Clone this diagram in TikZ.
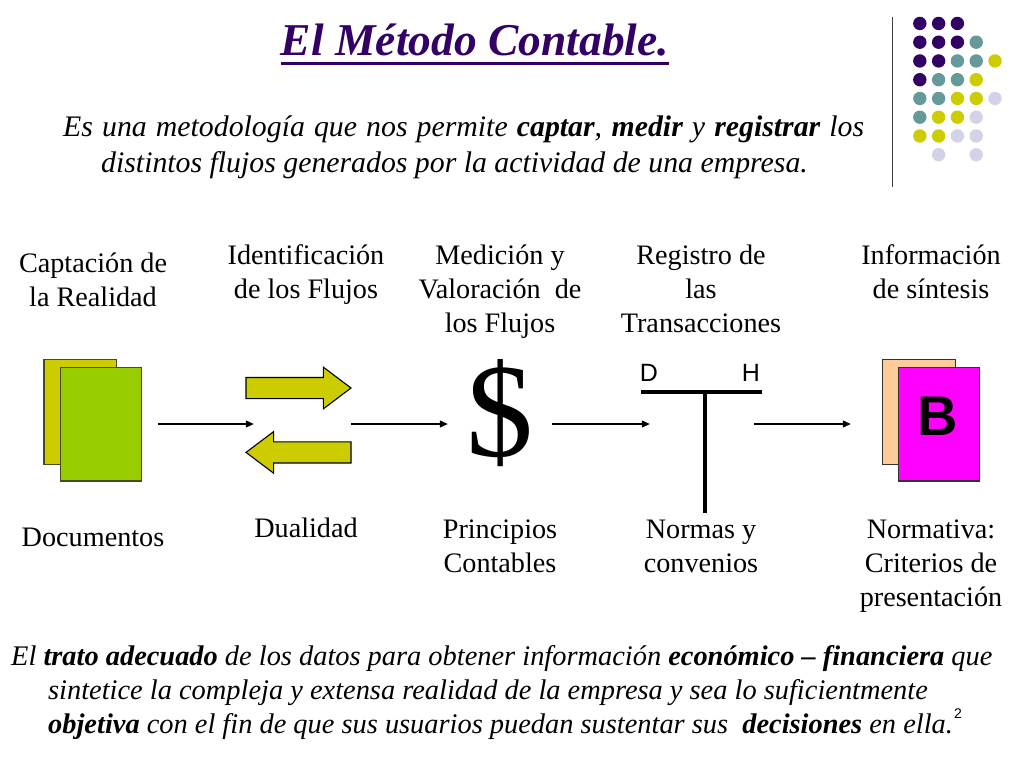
\documentclass[tikz,border=0pt]{standalone}
\usepackage{fontspec}
\setmainfont{Liberation Serif}
\newfontfamily\arialfont{Liberation Sans}
\usetikzlibrary{arrows.meta, positioning, shapes.arrows}
\tikzset{>={Triangle[width=7pt,length=8pt]}}
\definecolor{morado}{HTML}{330066}
\definecolor{verdoso}{HTML}{669999}
\definecolor{amarillo}{HTML}{CCCC00}
\definecolor{lila}{HTML}{D3D3E8}
\definecolor{verde}{HTML}{99CC00}
\definecolor{melocoton}{HTML}{FFCC99}
\definecolor{rosa}{HTML}{FF00FF}
\definecolor{borde}{HTML}{4A4A20}
\tikzset{
	texto/.style = {inner sep = 0pt, align = center, font = \fontsize{28.2}{34}\selectfont},
	parrafo/.style = {inner sep = 0pt, align = left, font = \fontsize{28.4}{34}\selectfont\itshape},
	hoja/.style = {draw = borde, line width = 1.1pt, inner sep = 0pt},
	flecha/.style = {->, line width = 1.1pt},
	bloque/.style = {single arrow, draw = black, line width = 1.1pt, fill = amarillo, inner xsep = 0pt, inner ysep = 10pt,
		minimum width = 40.6pt, minimum height = 105pt, single arrow head extend = 10.3pt,
		single arrow tip angle = 74, single arrow head indent = 0pt},
	punto/.style = {circle, inner sep = 0pt, minimum size = 13.4pt}
}
\begin{document}
\begin{tikzpicture}[x = 1pt, y = -1pt]
			\useasboundingbox (0,0) rectangle (1024,768);
			% encabezado
			\node (titulo) [inner sep = 0pt, text = morado, font = \fontsize{45.5}{45.5}\selectfont\bfseries\itshape] at (475,40) {El Método Contable.};
			\draw [line width = 2.5pt, draw = morado] ([yshift = -7pt]titulo.south west) -- ([yshift = -7pt]titulo.south east);
			\node (definicion) [parrafo, anchor = north west, font = \fontsize{29.8}{36}\selectfont\itshape] at (63,116) {\makebox[801pt][s]{Es una metodología que nos permite \textbf{captar}, \textbf{medir} y \textbf{registrar} los}\\
				\hspace*{38pt}distintos flujos generados por la actividad de una empresa.};
			\coordinate (rayaArriba) at (892,17);
			\coordinate (rayaAbajo) at (892,187);
			\draw [line width = 1pt, draw = black!75] (rayaArriba) -- (rayaAbajo);
			% puntos
			\foreach \col/\fila/\tono in {
				1/1/morado, 2/1/morado, 3/1/morado,
				1/2/morado, 2/2/morado, 3/2/morado, 4/2/verdoso,
				1/3/morado, 2/3/morado, 3/3/verdoso, 4/3/verdoso, 5/3/amarillo,
				1/4/morado, 2/4/verdoso, 3/4/verdoso, 4/4/amarillo,
				1/5/verdoso, 2/5/verdoso, 3/5/amarillo, 4/5/amarillo, 5/5/lila,
				1/6/verdoso, 2/6/amarillo, 3/6/amarillo, 4/6/lila,
				1/7/amarillo, 2/7/amarillo, 3/7/lila, 4/7/lila,
				2/8/lila, 4/8/lila}
				\node (p\col\fila) [punto, fill = \tono] at ({901+18.8*\col},{4.7+18.75*\fila}) {};
			% textos de arriba
			\node (captacion) [texto] at (93,280) {Captación de\\la Realidad};
			\node (identificacion) [texto] at (306,275) {Identificación\\de los Flujos};
			\node (medicion) [texto] at (500,292) {Medición y\\Valoración~ de\\los Flujos};
			\node (registro) [texto] at (701,289) {Registro de\\las\\Transacciones};
			\node (informacion) [texto] at (931,272) {Información\\de síntesis};
			% documentos
			\node (docAtras) [hoja, fill = amarillo, minimum width = 72.7pt, minimum height = 105.4pt] at (80.3,412) {};
			\node (docFrente) [hoja, fill = verde, minimum width = 80.5pt, minimum height = 113.5pt] at (100.8,424.25) {};
			% flujos
			\node (flujos) [inner sep = 0pt, minimum width = 97pt, minimum height = 100pt] at (302.5,424) {};
			\node (entrada) [bloque] at (291.5,388) {};
			\node (salida) [bloque, shape border rotate = 180] at (305.5,452.4) {};
			% dolar
			\node (dolar) [inner sep = 0pt, minimum width = 104pt, minimum height = 100pt] at (500,424) {};
			\node (signo) [inner sep = 0pt, font = \fontsize{134}{134}\selectfont] at (499.5,413) {\$};
			% cuenta en T
			\node (cuenta) [inner sep = 0pt, minimum width = 104pt, minimum height = 100pt] at (702,424) {};
			\coordinate (tIzq) at (641,391.7);
			\coordinate (tDer) at (761.7,391.7);
			\coordinate (tMedio) at (705.3,391.7);
			\coordinate (tPie) at (705.3,512.7);
			\draw [line width = 4pt] (tIzq) -- (tDer);
			\draw [line width = 4pt] (tMedio) -- (tPie);
			\node (debe) [inner sep = 0pt, font = \fontsize{25}{25}\selectfont\arialfont] at (649,373) {D};
			\node (haber) [inner sep = 0pt, font = \fontsize{25}{25}\selectfont\arialfont] at (751,373) {H};
			% balance
			\node (balAtras) [hoja, draw = black!80, fill = melocoton, minimum width = 73.4pt, minimum height = 105.4pt] at (919,412) {};
			\node (balFrente) [hoja, draw = black!80, fill = rosa, minimum width = 81pt, minimum height = 113.5pt] at (939.2,424.25) {};
			\node (letraB) [inner sep = 0pt, font = \fontsize{56}{56}\selectfont\arialfont\bfseries] at (938,416) {B};
			% conectores
			\draw [flecha, shorten <= 16pt] (flujos.west -| docFrente.east) -- (flujos.west);
			\draw [flecha] (flujos.east) -- (dolar.west);
			\draw [flecha] (dolar.east) -- (cuenta.west);
			\draw [flecha, shorten >= 31pt] (cuenta.east) -- (cuenta.east -| balAtras.west);
			% textos de abajo
			\node (documentos) [texto] at (93,537) {Documentos};
			\node (dualidad) [texto] at (306,528) {Dualidad};
			\node (principios) [texto] at (500,546) {Principios\\Contables};
			\node (normas) [texto] at (701,546) {Normas y\\convenios};
			\node (normativa) [texto] at (931,566) {Normativa:\\Criterios de\\presentación};
			% cierre
			\node (cierre) [parrafo, anchor = north west] at (11,645) {El \textbf{trato adecuado} de los datos para obtener información \textbf{económico – financiera} que\\
				\hspace*{37pt}sintetice la compleja y extensa realidad de la empresa y sea lo suficientmente\\
				\hspace*{37pt}\textbf{objetiva} con el fin de que sus usuarios puedan sustentar sus~ \textbf{decisiones} en ella.};
			\node (nota) [inner sep = 0pt, font = \fontsize{14}{14}\selectfont\arialfont] at (958,714) {2};
\end{tikzpicture}
\end{document}
